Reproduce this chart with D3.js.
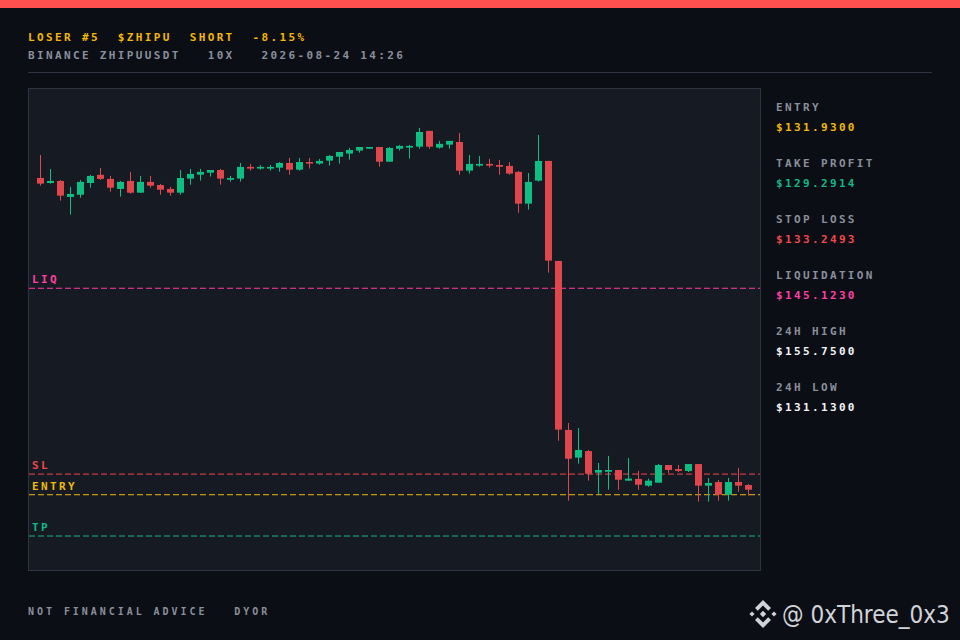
<!DOCTYPE html>
<html>
<head>
<meta charset="utf-8">
<script src="https://cdn.jsdelivr.net/npm/d3@7"></script>
<style>
  html, body { margin: 0; padding: 0; background: #0b0e14; }
  svg { display: block; }
  .mono { font-family: "DejaVu Sans Mono", monospace; font-weight: bold; }
</style>
</head>
<body>
<div id="chart"></div>
<script>
// candle data (72 bars)
const opens = [152.17,151.85,151.98,150.96,151.10,151.85,152.37,152.11,151.47,151.98,151.23,151.92,151.72,151.47,151.23,152.13,152.38,152.51,152.68,152.06,152.13,152.88,152.77,152.77,152.83,153.13,152.70,153.19,153.09,153.28,153.53,153.73,153.92,154.04,154.15,153.21,154.04,154.11,154.17,155.18,154.11,154.30,154.47,152.64,152.96,153.07,153.00,152.94,152.56,150.53,152.00,153.26,146.87,136.07,134.30,134.72,133.34,133.40,133.51,132.83,132.94,132.51,132.70,133.83,133.57,133.45,133.89,132.51,132.74,131.93,132.74,132.55];
const highs = [153.64,152.75,152.04,151.60,152.04,152.37,152.81,152.30,151.98,152.56,152.30,152.30,151.79,151.60,152.68,152.75,152.75,152.68,152.75,152.30,153.13,153.07,153.00,153.00,153.19,153.45,153.45,153.45,153.39,153.64,153.83,154.09,154.15,154.15,154.15,154.15,154.28,154.28,155.37,155.18,154.54,154.54,155.05,153.64,153.58,153.39,153.32,153.19,152.62,152.49,154.92,153.26,146.87,136.51,136.19,134.79,133.96,134.41,133.51,134.28,133.45,132.96,133.89,133.83,133.83,133.89,133.89,133.00,132.87,133.00,133.64,132.62];
const lows = [151.68,151.81,150.72,149.83,150.91,151.55,152.04,151.30,150.98,151.17,151.23,151.55,151.10,151.04,151.10,151.74,152.00,152.26,151.74,151.94,151.94,152.64,152.70,152.64,152.57,152.38,152.64,152.77,153.02,152.96,153.09,153.34,153.79,154.04,152.89,153.21,153.92,153.41,154.04,154.04,154.04,154.04,152.38,152.45,152.89,152.83,152.38,152.38,149.95,150.15,151.94,146.12,135.38,131.55,133.91,132.83,131.93,132.25,132.25,132.83,132.25,132.44,132.70,133.32,133.38,133.38,131.49,131.49,131.55,131.55,132.12,131.87];
const closes = [151.81,151.98,151.04,151.15,151.92,152.30,152.11,151.55,151.92,151.23,151.92,151.68,151.42,151.23,152.17,152.43,152.56,152.68,152.13,152.17,152.88,152.77,152.88,152.88,153.13,152.70,153.19,153.09,153.26,153.58,153.83,153.96,154.15,154.15,153.21,154.09,154.22,154.22,155.11,154.17,154.35,154.54,152.64,153.07,153.07,152.96,152.89,152.45,150.53,151.92,153.26,146.89,136.09,134.23,134.79,133.27,133.51,133.51,132.89,132.96,132.57,132.83,133.83,133.51,133.45,133.89,132.51,132.68,131.93,132.74,132.51,132.25];

// trade levels
const levelNames = ["LIQ", "SL", "ENTRY", "TP"];
const levelValues = [145.1230, 133.2493, 131.9300, 129.2914];
const levelColors = ["#ff3fa4", "#f0474d", "#f0b90b", "#12b886"];

// side panel
const panelLabels = ["ENTRY", "TAKE PROFIT", "STOP LOSS", "LIQUIDATION", "24H HIGH", "24H LOW"];
const panelValues = ["$131.9300", "$129.2914", "$133.2493", "$145.1230", "$155.7500", "$131.1300"];
const panelColors = ["#f0b90b", "#12b886", "#f0474d", "#ff3fa4", "#f2f3f5", "#f2f3f5"];

const priceDomain = [127.12, 157.92];

const width = 960, height = 640;
const plot = {left: 28.5, top: 88.5, right: 760.5, bottom: 570.5};
const red = "#e0474c", green = "#0ebe82";

const svg = d3.select("#chart").append("svg")
    .attr("width", width)
    .attr("height", height);

svg.append("rect").attr("width", width).attr("height", height).attr("fill", "#0b0e14");
svg.append("rect").attr("width", width).attr("height", 8).attr("fill", "#ff5050");

// header
svg.append("text").attr("class", "mono")
    .attr("x", 28).attr("y", 41)
    .attr("font-size", 11).attr("letter-spacing", 2.36)
    .attr("fill", "#f5b800")
    .attr("xml:space", "preserve")
    .text("LOSER #5  $ZHIPU  SHORT  -8.15%");
svg.append("text").attr("class", "mono")
    .attr("x", 28).attr("y", 59)
    .attr("font-size", 11).attr("letter-spacing", 2.36)
    .attr("fill", "#8a8f9c")
    .attr("xml:space", "preserve")
    .text("BINANCE ZHIPUUSDT   10X   2026-08-24 14:26");
svg.append("line")
    .attr("x1", 28).attr("x2", 932).attr("y1", 72.5).attr("y2", 72.5)
    .attr("stroke", "#2f3440");

// plot box
svg.append("rect")
    .attr("x", plot.left).attr("y", plot.top)
    .attr("width", plot.right - plot.left).attr("height", plot.bottom - plot.top)
    .attr("fill", "#161a23").attr("stroke", "#2f3440");

const idx = d3.range(opens.length);
const x = d3.scaleBand()
    .domain(idx)
    .range([37, 751])
    .paddingInner(0.3)
    .paddingOuter(0);

const y = d3.scaleLinear()
    .domain(priceDomain)
    .range([570, 88]);

// level lines
levelValues.forEach((v, i) => {
    const yy = y(v);
    svg.append("line")
        .attr("x1", plot.left + 0.5).attr("x2", plot.right - 0.5)
        .attr("y1", yy).attr("y2", yy)
        .attr("stroke", levelColors[i])
        .attr("stroke-width", 1)
        .attr("stroke-dasharray", "6,3");
    svg.append("text").attr("class", "mono")
        .attr("x", 32).attr("y", yy - 5)
        .attr("font-size", 11).attr("letter-spacing", 2.36)
        .attr("fill", levelColors[i])
        .text(levelNames[i]);
});

// candles
const candles = svg.append("g").selectAll("g")
    .data(idx)
    .enter()
    .append("g");

candles.append("line")
    .attr("x1", (i) => Math.round(x(i) + x.bandwidth() / 2) + 0.5)
    .attr("x2", (i) => Math.round(x(i) + x.bandwidth() / 2) + 0.5)
    .attr("y1", (i) => y(highs[i]))
    .attr("y2", (i) => y(lows[i]))
    .attr("stroke", (i) => closes[i] >= opens[i] ? green : red)
    .attr("stroke-width", 1);

candles.append("rect")
    .attr("x", (i) => Math.round(x(i) + x.bandwidth() / 2) + 0.5 - 3.5)
    .attr("width", 7)
    .attr("y", (i) => y(Math.max(opens[i], closes[i])))
    .attr("height", (i) => Math.max(1.6, Math.abs(y(opens[i]) - y(closes[i]))))
    .attr("fill", (i) => closes[i] >= opens[i] ? green : red);

// side panel
panelLabels.forEach((lab, i) => {
    svg.append("text").attr("class", "mono")
        .attr("x", 776).attr("y", 111 + i * 56)
        .attr("font-size", 11).attr("letter-spacing", 2.36)
        .attr("fill", "#8a8f9c")
        .text(lab);
    svg.append("text").attr("class", "mono")
        .attr("x", 776).attr("y", 131 + i * 56)
        .attr("font-size", 11).attr("letter-spacing", 2.36)
        .attr("fill", panelColors[i])
        .text(panelValues[i]);
});

// footer
svg.append("text").attr("class", "mono")
    .attr("x", 28).attr("y", 615)
    .attr("font-size", 10).attr("letter-spacing", 2.95)
    .attr("fill", "#8a8f9c")
    .attr("xml:space", "preserve")
    .text("NOT FINANCIAL ADVICE   DYOR");

// watermark
const logo = svg.append("g")
    .attr("transform", "translate(763,614)")
    .attr("fill", "#d0d3d8");
const dia = (cx, cy, s) => `M${cx},${cy - s}L${cx + s},${cy}L${cx},${cy + s}L${cx - s},${cy}Z`;
logo.append("path").attr("d", dia(0, 0, 3.2));
logo.append("path").attr("d", dia(-11, 0, 2.6));
logo.append("path").attr("d", dia(11, 0, 2.6));
logo.append("path").attr("d", "M0,-14L8,-6L5.2,-3.2L0,-8.4L-5.2,-3.2L-8,-6Z");
logo.append("path").attr("d", "M0,14L8,6L5.2,3.2L0,8.4L-5.2,3.2L-8,6Z");

svg.append("text")
    .attr("x", 782).attr("y", 623)
    .attr("font-family", "'DejaVu Sans Condensed', 'DejaVu Sans', sans-serif")
    .attr("font-size", 24)
    .attr("fill", "#d0d3d8")
    .text("@ 0xThree_0x3");
</script>
</body>
</html>
